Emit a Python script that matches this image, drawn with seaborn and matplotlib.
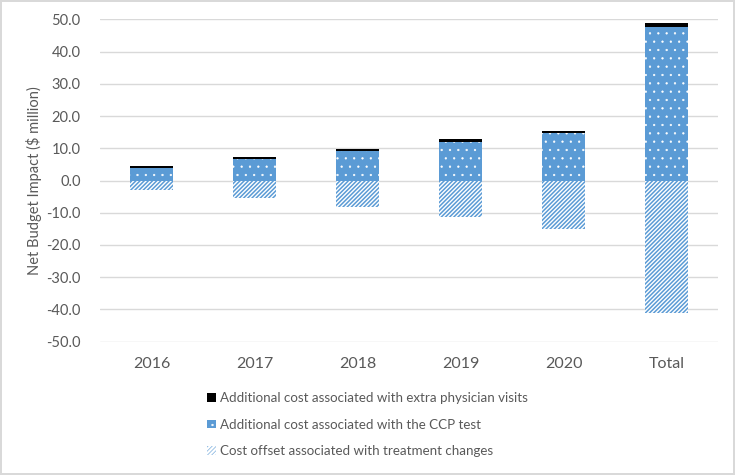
import matplotlib.pyplot as plt
import numpy as np
import pandas as pd
import seaborn as sns
from matplotlib.patches import Patch
from matplotlib.ticker import FormatStrFormatter

# values ($ million)
years = ["2016", "2017", "2018", "2019", "2020", "Total"]
ccp_test = [3.8, 6.6, 9.2, 12.1, 14.8, 47.6]
physician_visits = [0.6, 0.7, 0.7, 0.7, 0.7, 1.2]
treatment_offset = [-2.8, -5.3, -8.1, -11.4, -15.0, -41.2]

labels = ["Additional cost associated with extra physician visits",
          "Additional cost associated with the CCP test",
          "Cost offset associated with treatment changes"]

blue = "#5B9BD5"
grey_txt = "#595959"
stripes = "////////"
dots = ".."

sns.set_theme(style="white")
plt.rcParams['font.family'] = ['Lato', 'DejaVu Sans']

df = pd.DataFrame({"year": years, "ccp": ccp_test, "visits": physician_visits,
                   "offset": treatment_offset})

fig = plt.figure(figsize=(7.35, 4.75), dpi=100)
fig.patch.set_edgecolor("#D9D9D9")
fig.patch.set_linewidth(1.5)
ax = fig.add_axes([0.136, 0.281, 0.841, 0.678])

bw = 0.41
plt.rcParams['hatch.linewidth'] = 1.1
sns.barplot(data=df, x="year", y="offset", ax=ax, width=bw, errorbar=None,
            color="white", edgecolor=blue, hatch=stripes, linewidth=0, saturation=1)
plt.rcParams['hatch.linewidth'] = 0.4
sns.barplot(data=df, x="year", y="ccp", ax=ax, width=bw, errorbar=None,
            color=blue, edgecolor="white", hatch=dots, linewidth=0, saturation=1)
sns.barplot(data=df, x="year", y="visits", ax=ax, width=bw, errorbar=None,
            color="black", linewidth=0, saturation=1, bottom=df["ccp"].values)
# seaborn sets face via color; force hatch colours
for p in ax.patches:
    if p.get_hatch() == stripes:
        p.set_facecolor("white")
        p.set_edgecolor(blue)
    elif p.get_hatch() == dots:
        p.set_facecolor(blue)
        p.set_edgecolor("white")

ax.set_ylim(-50, 50)
ax.set_xlim(-0.5, 5.5)
ax.set_yticks(np.arange(-50, 51, 10))
ax.yaxis.set_major_formatter(FormatStrFormatter("%.1f"))
ax.yaxis.grid(True, color="#D9D9D9", linewidth=1)
ax.set_axisbelow(True)
for s in ax.spines.values():
    s.set_visible(False)
ax.tick_params(axis="y", length=0, labelsize=10.5, colors=grey_txt, pad=14)
ax.tick_params(axis="x", length=0, labelsize=11.5, colors=grey_txt, pad=11)
ax.set_xlabel("")
ax.set_ylabel("Net Budget Impact ($ million)", fontsize=10.5, color=grey_txt, labelpad=3)

plt.rcParams['hatch.linewidth'] = 1.1
h3 = Patch(facecolor="white", edgecolor=blue, hatch=stripes, linewidth=0)
plt.rcParams['hatch.linewidth'] = 0.4
h2 = Patch(facecolor=blue, edgecolor="white", hatch=dots, linewidth=0)
h1 = Patch(facecolor="black", edgecolor="black", linewidth=0)
leg = fig.legend([h1, h2, h3], labels, loc="upper center", bbox_to_anchor=(0.5, 0.20),
                 frameon=False, fontsize=9.6, labelcolor=grey_txt,
                 handlelength=0.65, handleheight=0.65, handletextpad=0.35,
                 labelspacing=1.1)

fig.savefig("out.png", dpi=100)
